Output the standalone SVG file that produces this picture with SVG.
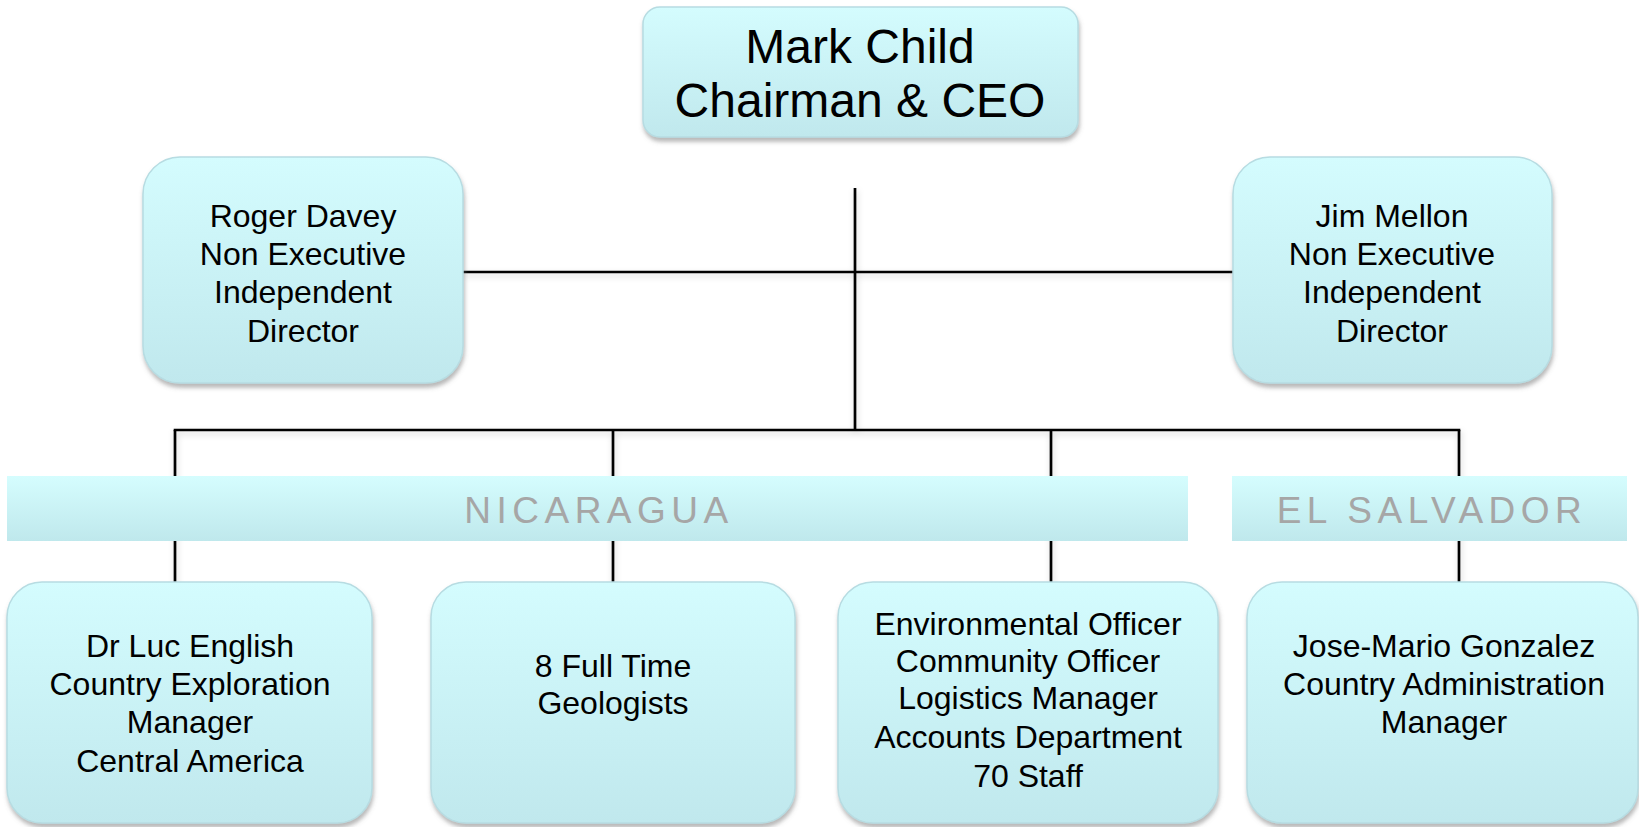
<svg xmlns="http://www.w3.org/2000/svg" width="1639" height="827" viewBox="0 0 1639 827">
  <defs>
    <linearGradient id="boxGrad" x1="0" y1="0" x2="0" y2="1">
      <stop offset="0" stop-color="#D4FCFE"/>
      <stop offset="1" stop-color="#C0E8ED"/>
    </linearGradient>
    <linearGradient id="bannerGrad" x1="0" y1="0" x2="0" y2="1">
      <stop offset="0" stop-color="#D5FDFE"/>
      <stop offset="1" stop-color="#BFE8EC"/>
    </linearGradient>
    <filter id="boxShadow" x="-10%" y="-10%" width="120%" height="125%">
      <feDropShadow dx="1" dy="4" stdDeviation="2" flood-color="#6f6f6f" flood-opacity="0.5"/>
    </filter>
    <filter id="lineShadow" x="-20%" y="-20%" width="140%" height="140%">
      <feDropShadow dx="1" dy="3" stdDeviation="3" flood-color="#000" flood-opacity="0.18"/>
    </filter>
  </defs>
  <style>
    .box { fill: url(#boxGrad); stroke: #B7DCE2; stroke-width: 1.5; filter: url(#boxShadow); }
    .banner { fill: url(#bannerGrad); }
    .conn { stroke: #000; stroke-width: 2.7; fill: none; stroke-linecap: butt; }
    .t { font-family: "Liberation Sans", Arial, sans-serif; fill: #000; text-anchor: middle; }
    .t32 { font-size: 32px; }
    .t48 { font-size: 48px; }
    .bt { font-family: "Liberation Sans", Arial, sans-serif; fill: #A6A6A6; text-anchor: middle; font-size: 37px; letter-spacing: 5.5px; }
  </style>
  <rect width="1639" height="827" fill="#FFFFFF"/>

  <g id="connectors" filter="url(#lineShadow)">
    <line class="conn" x1="855" y1="188" x2="855" y2="431"/>
    <line class="conn" x1="463" y1="272" x2="1233" y2="272"/>
    <line class="conn" x1="173.7" y1="430" x2="1460.3" y2="430"/>
    <line class="conn" x1="175" y1="430" x2="175" y2="582"/>
    <line class="conn" x1="613" y1="430" x2="613" y2="582"/>
    <line class="conn" x1="1051" y1="430" x2="1051" y2="582"/>
    <line class="conn" x1="1459" y1="430" x2="1459" y2="582"/>
  </g>

  <g id="banner-nicaragua">
    <rect class="banner" x="7" y="476" width="1181" height="65"/>
    <text class="bt" x="599" y="523">NICARAGUA</text>
  </g>
  <g id="banner-elsalvador">
    <rect class="banner" x="1232" y="476" width="395" height="65"/>
    <text class="bt" x="1432" y="523">EL SALVADOR</text>
  </g>

  <g id="node-ceo">
    <rect class="box" x="643" y="7" width="435" height="130" rx="17"/>
    <text class="t t48" x="860" y="63">Mark Child</text>
    <text class="t t48" x="860" y="117">Chairman &amp; CEO</text>
  </g>

  <g id="node-roger">
    <rect class="box" x="143" y="157" width="320" height="226" rx="37"/>
    <text class="t t32" x="303" y="227">Roger Davey</text>
    <text class="t t32" x="303" y="265">Non Executive</text>
    <text class="t t32" x="303" y="303">Independent</text>
    <text class="t t32" x="303" y="342">Director</text>
  </g>

  <g id="node-jim">
    <rect class="box" x="1233" y="157" width="319" height="226" rx="37"/>
    <text class="t t32" x="1392" y="227">Jim Mellon</text>
    <text class="t t32" x="1392" y="265">Non Executive</text>
    <text class="t t32" x="1392" y="303">Independent</text>
    <text class="t t32" x="1392" y="342">Director</text>
  </g>

  <g id="node-luc">
    <rect class="box" x="7" y="582" width="365" height="241" rx="35"/>
    <text class="t t32" x="190" y="657">Dr Luc English</text>
    <text class="t t32" x="190" y="695">Country Exploration</text>
    <text class="t t32" x="190" y="733">Manager</text>
    <text class="t t32" x="190" y="772">Central America</text>
  </g>

  <g id="node-geologists">
    <rect class="box" x="431" y="582" width="364" height="241" rx="35"/>
    <text class="t t32" x="613" y="677">8 Full Time</text>
    <text class="t t32" x="613" y="714">Geologists</text>
  </g>

  <g id="node-staff">
    <rect class="box" x="838" y="582" width="380" height="241" rx="35"/>
    <text class="t t32" x="1028" y="635">Environmental Officer</text>
    <text class="t t32" x="1028" y="672">Community Officer</text>
    <text class="t t32" x="1028" y="709">Logistics Manager</text>
    <text class="t t32" x="1028" y="748">Accounts Department</text>
    <text class="t t32" x="1028" y="787">70 Staff</text>
  </g>

  <g id="node-jose">
    <rect class="box" x="1247" y="582" width="391" height="241" rx="35"/>
    <text class="t t32" x="1444" y="657">Jose-Mario Gonzalez</text>
    <text class="t t32" x="1444" y="695">Country Administration</text>
    <text class="t t32" x="1444" y="733">Manager</text>
  </g>
</svg>
